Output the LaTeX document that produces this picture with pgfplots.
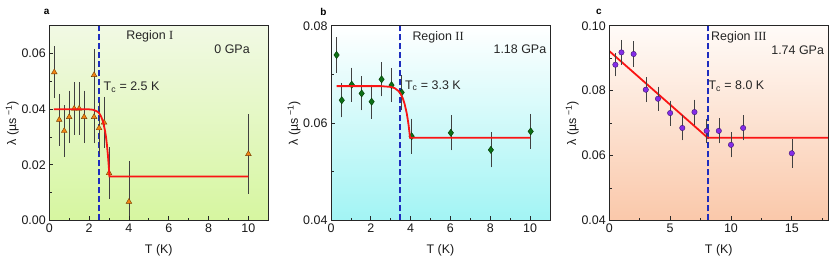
\documentclass[border=0pt]{standalone}
\usepackage{fontspec}
\setmainfont{Liberation Sans}
\newfontfamily\serifrm{Liberation Serif}
\usepackage{pgfplots}
\pgfplotsset{compat=1.18}
\definecolor{aTop}{RGB}{241,249,228}
\definecolor{aBot}{RGB}{214,246,160}
\definecolor{bTop}{RGB}{255,255,255}
\definecolor{bBot}{RGB}{162,244,244}
\definecolor{cTop}{RGB}{255,251,248}
\definecolor{cBot}{RGB}{250,200,170}
\definecolor{fitred}{RGB}{250,20,20}
\definecolor{tcblue}{RGB}{30,45,190}
\definecolor{aMark}{RGB}{242,132,20}
\definecolor{aEdge}{RGB}{120,60,0}
\definecolor{bMark}{RGB}{12,112,22}
\definecolor{bEdge}{RGB}{0,55,0}
\definecolor{cMark}{RGB}{132,44,232}
\definecolor{cEdge}{RGB}{60,20,110}
\newcommand{\fs}{\fontsize{12.5}{15}\selectfont}
\pgfplotsset{
  panel/.style={
    scale only axis, width=219bp, height=194.6bp,
    anchor=south west,
    axis on top,
    clip mode=individual,
    axis line style={black!85, line width=0.8bp},
    tick align=inside, tick pos=left,
    major tick length=4bp, minor tick length=2.5bp,
    every tick/.style={black!85, line width=0.8bp},
    tick label style={font=\fs, black!90},
    label style={font=\fs, black!90},
    /pgf/number format/assume math mode=true,
    scaled y ticks=false,
    yticklabel style={/pgf/number format/.cd, fixed, fixed zerofill, precision=2},
    xlabel style={at={(axis description cs:0.5,-0.152)}, anchor=center},
    ylabel style={at={(axis description cs:-0.169,0.5)}, anchor=center},
    xlabel={T (K)},
    ylabel={λ (µs\textsuperscript{ −1})},
  },
  ebar/.style={error bars/.cd, y dir=both, y explicit,
    error bar style={black!75, line width=0.6bp},
    error mark options={black!75, mark size=1.5bp, line width=0.6bp}},
  fit/.style={color=fitred, line width=1.8bp, no marks},
  tcline/.style={color=tcblue, line width=1.8bp, dash pattern=on 6bp off 3bp, no marks},
}
\begin{document}
\begin{tikzpicture}
\path[use as bounding box] (0,0) rectangle (830bp,261bp);
% ---------------- panel a ----------------
\begin{axis}[panel, at={(49.3bp,40.6bp)},
  xmin=0, xmax=11, ymin=0, ymax=0.07,
  xtick={0,2,4,6,8,10}, minor xtick={1,3,5,7,9},
  ytick={0,0.02,0.04,0.06}, minor ytick={0.01,0.03,0.05}]
\fill[top color=aTop, bottom color=aBot] (rel axis cs:0,0) rectangle (rel axis cs:1,1);
\addplot[tcline] coordinates {(2.5,0) (2.5,0.07)};
\addplot[only marks, mark=triangle*, mark size=3.3bp,
  mark options={fill=aMark, draw=aEdge, line width=0.4bp}, ebar]
  table[x=x, y=y, y error=e] {
x y e
0.25 0.0533 0.0088
0.50 0.0362 0.0088
0.75 0.0322 0.0087
1.00 0.0372 0.0089
1.25 0.0402 0.0089
1.50 0.0402 0.0089
1.75 0.0372 0.0089
2.25 0.0523 0.0087
2.25 0.0372 0.0089
2.50 0.0332 0.0088
2.75 0.0352 0.0087
3.00 0.0170 0.0088
4.00 0.0067 0.0142
10.00 0.0239 0.0137
};
\addplot[fit] coordinates {(0.23,0.0400) (1.5,0.0400) (2.0,0.03995) (2.2,0.0398) (2.4,0.0392) (2.5,0.0386) (2.6,0.0374) (2.7,0.0355) (2.8,0.0322) (2.85,0.0299) (2.9,0.0268) (2.95,0.0230) (2.98,0.0202) (3.0,0.0181) (3.02,0.0158) (10,0.0158)};
\node[font=\fs, black!85] at (axis cs:5.05,0.0662) {Region {\serifrm I}};
\node[font=\fs, black!85] at (axis cs:9.18,0.0614) {0 GPa};
\node[font=\fs, black!85, anchor=west, inner sep=0pt] at (axis cs:2.72,0.0480) {T\textsubscript{c} = 2.5 K};
\end{axis}
\node[font=\bfseries\fontsize{10}{12}\selectfont] at (46.7bp,249.3bp) {a};
% ---------------- panel b ----------------
\begin{axis}[panel, at={(331bp,40.6bp)},
  xmin=0, xmax=11, ymin=0.04, ymax=0.08,
  xtick={0,2,4,6,8,10}, minor xtick={1,3,5,7,9},
  ytick={0.04,0.06,0.08}, minor ytick={0.05,0.07}]
\fill[top color=bTop, bottom color=bBot] (rel axis cs:0,0) rectangle (rel axis cs:1,1);
\addplot[tcline] coordinates {(3.45,0.04) (3.45,0.08)};
\addplot[only marks, mark=diamond*, mark size=3.6bp,
  mark options={fill=bMark, draw=bEdge, line width=0.4bp}, ebar]
  table[x=x, y=y, y error=e] {
x y e
0.28 0.0740 0.0033
0.54 0.0647 0.0032
1.04 0.0679 0.0032
1.54 0.0661 0.0032
2.04 0.0644 0.0032
2.54 0.0690 0.0032
3.04 0.0678 0.0032
3.55 0.0663 0.0033
4.05 0.0573 0.0033
6.02 0.0580 0.0033
8.03 0.0545 0.0033
10.03 0.0583 0.0033
};
\addplot[fit] coordinates {(0.28,0.0676) (2.5,0.0676) (3.0,0.06744) (3.2,0.06718) (3.4,0.06656) (3.5,0.0660) (3.6,0.06515) (3.7,0.0639) (3.8,0.0621) (3.85,0.0609) (3.9,0.05948) (3.94,0.05814) (3.97,0.0570) (10,0.0570)};
\node[font=\fs, black!85] at (axis cs:5.38,0.0776) {Region {\serifrm II}};
\node[font=\fs, black!85, anchor=east, inner sep=0pt] at (axis cs:10.82,0.0751) {1.18 GPa};
\node[font=\fs, black!85, anchor=west, inner sep=0pt] at (axis cs:3.71,0.0677) {T\textsubscript{c} = 3.3 K};
\end{axis}
\node[font=\bfseries\fontsize{10}{12}\selectfont] at (323.3bp,249.3bp) {b};
% ---------------- panel c ----------------
\begin{axis}[panel, at={(609.3bp,40.6bp)},
  xmin=0, xmax=18, ymin=0.04, ymax=0.10,
  xtick={0,5,10,15}, minor xtick={2.5,7.5,12.5,17.5},
  ytick={0.04,0.06,0.08,0.10}, minor ytick={0.05,0.07,0.09}]
\fill[top color=cTop, bottom color=cBot] (rel axis cs:0,0) rectangle (rel axis cs:1,1);
\addplot[tcline] coordinates {(8.08,0.04) (8.08,0.10)};
\addplot[fit] coordinates {(0,0.0922) (8.08,0.0655) (18,0.0655)};
\addplot[only marks, mark=*, mark size=2.7bp,
  mark options={fill=cMark, draw=cEdge, line width=0.4bp}, ebar]
  table[x=x, y=y, y error=e] {
x y e
0.5 0.0880 0.0031
1 0.0918 0.0034
2 0.0913 0.0034
3 0.0803 0.0034
4 0.0775 0.0033
5 0.0731 0.0034
6 0.0685 0.0034
7 0.0734 0.0034
8 0.0676 0.0033
9 0.0676 0.0034
10 0.0633 0.0034
11 0.0685 0.0034
15 0.0607 0.0040
};
\node[font=\fs, black!85, anchor=west, inner sep=0pt] at (axis cs:8.36,0.0964) {Region {\serifrm III}};
\node[font=\fs, black!85, anchor=east, inner sep=0pt] at (axis cs:17.66,0.0925) {1.74 GPa};
\node[font=\fs, black!85, anchor=west, inner sep=0pt] at (axis cs:8.14,0.0814) {T\textsubscript{c} = 8.0 K};
\end{axis}
\node[font=\bfseries\fontsize{10}{12}\selectfont] at (599bp,249.3bp) {c};
\end{tikzpicture}
\end{document}
